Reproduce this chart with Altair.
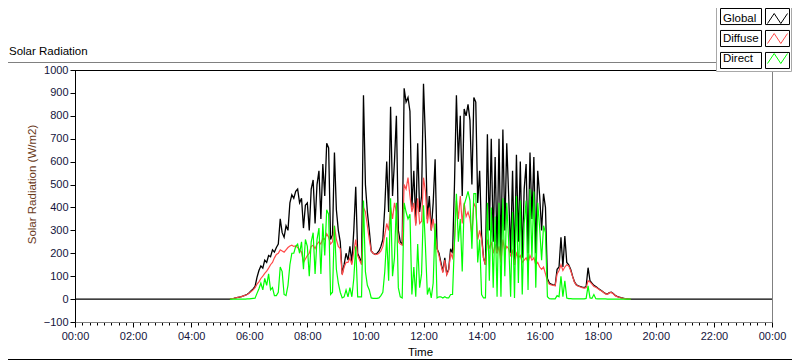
import altair as alt
import pandas as pd

# ---------------- data (W/m2), 4-minute samples from 05:20 ----------------
start_time_min = 320          # 05:20
sample_step_min = 4

global_wm2 = [
    0, 2, 3, 5, 7, 9, 11, 14, 17, 21,                                                   # 05:20-05:56
    28, 36, 44, 55, 95, 125, 145, 135, 170, 160, 190, 185, 215, 205, 225,               # 06
    240, 350, 290, 270, 320, 300, 420, 455, 440, 470, 480, 420, 440, 310, 410,          # 07
    420, 300, 480, 520, 330, 500, 560, 350, 590, 450, 680, 660, 260, 280, 640,          # 08
    390, 300, 250, 110, 150, 200, 170, 230, 160, 300, 490, 200, 180, 160, 890,          # 09
    500, 380, 300, 210, 200, 195, 200, 210, 230, 260, 400, 600, 380, 840, 450,          # 10
    600, 800, 300, 250, 240, 920, 860, 880, 820, 400, 560, 330, 680, 380, 450,          # 11
    940, 700, 350, 450, 300, 420, 610, 220, 200, 160, 120, 180, 110, 130, 220,          # 12
    200, 500, 890, 600, 800, 450, 830, 800, 850, 780, 500, 880, 860, 420, 560,          # 13
    280, 180, 150, 720, 300, 700, 250, 620, 200, 700, 180, 740, 300, 680, 450,          # 14
    200, 560, 150, 630, 250, 600, 180, 480, 590, 200, 640, 350, 620, 200, 560,          # 15
    450, 300, 460, 400, 90, 70, 65, 62, 60, 130, 140, 270, 140, 275, 160,               # 16
    150, 130, 100, 75, 62, 58, 55, 52, 50, 55, 137, 80, 70, 60, 55,                     # 17
    48, 42, 36, 30, 24, 22, 28, 30, 24, 16, 12, 9, 6, 4, 2,                             # 18
    1, 0, 0,                                                                            # 19:00-19:08
]

diffuse_wm2 = [
    0, 2, 3, 5, 7, 9, 11, 14, 17, 20,
    26, 33, 40, 50, 65, 75, 90, 100, 112, 122, 135, 150, 160, 180, 195,
    200, 215, 210, 205, 215, 225, 232, 235, 230, 232, 225, 215, 205, 160, 175,
    190, 200, 230, 235, 220, 240, 250, 240, 265, 260, 285, 270, 240, 250, 320,
    260, 230, 220, 105, 140, 160, 160, 180, 150, 210, 260, 190, 170, 150, 400,
    380, 320, 260, 210, 200, 195, 195, 200, 210, 230, 280, 330, 300, 400, 350,
    420, 380, 250, 240, 235, 500, 480, 530, 450, 380, 420, 320, 440, 330, 340,
    530, 470, 330, 400, 300, 350, 280, 220, 190, 150, 115, 170, 105, 125, 200,
    180, 250, 430, 350, 450, 330, 420, 360, 380, 350, 280, 420, 400, 260, 300,
    260, 180, 150, 260, 220, 250, 200, 240, 200, 230, 160, 260, 210, 230, 220,
    190, 210, 150, 200, 180, 190, 160, 170, 180, 160, 190, 170, 180, 150, 160,
    140, 130, 140, 110, 80, 65, 62, 60, 58, 110, 125, 150, 125, 140, 150,
    145, 125, 98, 73, 60, 56, 53, 50, 48, 50, 80, 75, 65, 55, 52,
    46, 40, 35, 29, 23, 21, 27, 29, 23, 15, 11, 8, 5, 3, 2,
    1, 0, 0,
]

direct_wm2 = [
    0, 0, 0, 0, 0, 0, 0, 0, 0, 1,
    1, 2, 3, 4, 25, 45, 70, 40, 90, 60, 110, 40, 50, 15, 15,
    30, 140, 120, 20, 15, 60, 150, 200, 200, 230, 240, 200, 250, 130, 260,
    230, 100, 250, 290, 110, 260, 310, 110, 330, 190, 390, 370, 20, 30, 320,
    130, 70, 30, 5, 10, 40, 10, 50, 10, 90, 230, 10, 10, 10, 430,
    120, 60, 40, 5, 3, 3, 3, 5, 15, 30, 120, 270, 80, 440, 100,
    180, 420, 50, 10, 5, 420, 380, 350, 370, 20, 140, 10, 240, 50, 110,
    410, 230, 20, 50, 5, 70, 330, 5, 10, 10, 5, 10, 5, 5, 20,
    20, 250, 460, 250, 350, 120, 410, 440, 470, 430, 220, 460, 460, 160, 260,
    20, 5, 5, 420, 80, 400, 50, 360, 10, 420, 10, 440, 100, 420, 250,
    10, 380, 5, 450, 70, 430, 20, 330, 430, 40, 480, 180, 470, 50, 420,
    310, 170, 320, 290, 10, 2, 1, 1, 1, 15, 10, 100, 10, 80, 5,
    2, 2, 1, 1, 1, 1, 1, 1, 1, 3, 58, 5, 3, 20, 2,
    1, 1, 1, 1, 1, 0, 0, 0, 0, 0, 0, 0, 0, 0, 0,
    0, 0, 0,
]

series_names = ["Global", "Diffuse", "Direct"]
series_colors = ["#000000", "#ff4a4a", "#00ff00"]

major_ticks = [0, 120, 240, 360, 480, 600, 720, 840, 960, 1080, 1200, 1320, 1440]
minor_ticks = list(range(0, 1441, 15))
y_ticks = [-100, 0, 100, 200, 300, 400, 500, 600, 700, 800, 900, 1000]

# ---------------- layout / style ----------------
FONT = "Liberation Sans"
LABEL_COLOR = "#14143c"
W, H = 697, 252

times = [start_time_min + i * sample_step_min for i in range(len(global_wm2))]
df_global = pd.DataFrame({"t": [0] + times + [1440], "v": [0] + global_wm2 + [0]})
df_diffuse = pd.DataFrame({"t": times, "v": diffuse_wm2})
df_direct = pd.DataFrame({"t": times, "v": direct_wm2})
one = pd.DataFrame({"k": [0]})
leg_df = pd.DataFrame({"series": series_names})


def xs():
    return alt.Scale(domain=[0, 1440], nice=False, zero=False)


def ys():
    return alt.Scale(domain=[-100, 1000], nice=False, zero=False)


label_expr = "(floor(datum.value/60)%24<10?'0':'')+(floor(datum.value/60)%24)+':00'"

main_x_axis = alt.Axis(
    orient="bottom", values=major_ticks, labelExpr=label_expr, grid=False,
    tickSize=5, tickColor="black", domainColor="#808080", domainWidth=1,
    labelFont=FONT, labelFontSize=11, labelColor=LABEL_COLOR, labelPadding=3,
    labelFlush=False, labelOverlap=False,
    title="Time", titleFont=FONT, titleFontSize=11.5, titleFontWeight="normal",
    titleColor="black", titleX=345, titleY=33, titleAlign="center", titleBaseline="alphabetic",
)
main_y_axis = alt.Axis(
    values=y_ticks, format="d", grid=False, tickSize=5, tickColor="black", domainColor="black",
    labelFont=FONT, labelFontSize=11, labelColor=LABEL_COLOR, labelPadding=2,
    title="Solar Radiation (W/m2)", titleFont=FONT, titleFontSize=11.5,
    titleFontWeight="normal", titleColor="#6a3a1a", titleAngle=270,
    titleX=-38, titleY=114, titleAlign="center", titleBaseline="bottom",
)
minor_x_axis = alt.Axis(
    orient="bottom", values=minor_ticks, labels=False, tickSize=3, tickColor="black",
    domain=False, grid=False, title=None,
)

minor = alt.Chart(df_global).mark_line(opacity=0).encode(
    x=alt.X("t:Q", scale=xs(), axis=minor_x_axis),
    y=alt.Y("v:Q", scale=ys(), axis=None),
)
g_line = alt.Chart(df_global).mark_line(color=series_colors[0], strokeWidth=1.3).encode(
    x=alt.X("t:Q", scale=xs(), axis=main_x_axis),
    y=alt.Y("v:Q", scale=ys(), axis=main_y_axis),
)
d_line = alt.Chart(df_diffuse).mark_line(color=series_colors[1], strokeWidth=1.2).encode(
    x=alt.X("t:Q", scale=xs(), axis=None),
    y=alt.Y("v:Q", scale=ys(), axis=None),
)
r_line = alt.Chart(df_direct).mark_line(color=series_colors[2], strokeWidth=1.2).encode(
    x=alt.X("t:Q", scale=xs(), axis=None),
    y=alt.Y("v:Q", scale=ys(), axis=None),
)

# frame decorations
top_line = alt.Chart(one).mark_rule(color="black", strokeWidth=1).encode(
    x=alt.value(0), x2=alt.value(W), y=alt.value(0.5))
right_line = alt.Chart(one).mark_rule(color="#808080", strokeWidth=1).encode(
    x=alt.value(W + 0.5), y=alt.value(0), y2=alt.value(H))
panel_top = alt.Chart(one).mark_rule(color="#808080", strokeWidth=1).encode(
    x=alt.value(-67), x2=alt.value(641), y=alt.value(-7.5))
panel_bottom = alt.Chart(one).mark_rule(color="black", strokeWidth=1).encode(
    x=alt.value(-67), x2=alt.value(717), y=alt.value(289.5))
caption = alt.Chart(one).mark_text(
    text="Solar Radiation", align="left", baseline="alphabetic",
    font=FONT, fontSize=11.5, color="black").encode(x=alt.value(-66), y=alt.value(-15))

# legend (top-right)
band_y = alt.Y("series:N", scale=alt.Scale(domain=series_names, range=[-61.5, -1.5],
                                            paddingInner=0.27, paddingOuter=0), axis=None)
legend_panel = alt.Chart(one).mark_rect(fill="white", stroke="#a8a8a8", strokeWidth=1).encode(
    x=alt.value(641.5), x2=alt.value(716.5), y=alt.value(-70), y2=alt.value(1.5))
label_boxes = alt.Chart(leg_df).mark_rect(fill="white", stroke="black", strokeWidth=1).encode(
    x=alt.value(645.5), x2=alt.value(686.5), y=band_y)
swatch_boxes = alt.Chart(leg_df).mark_rect(fill="white", stroke="black", strokeWidth=1).encode(
    x=alt.value(690.5), x2=alt.value(714.5), y=band_y)
label_text = alt.Chart(leg_df).mark_text(
    align="left", baseline="middle", font=FONT, fontSize=11.5, color="black").encode(
    x=alt.value(648), y=band_y, text="series:N")
ZIGZAG = "M-1,0.5L-0.33,-0.5L0.33,0.5L1,-0.5"
glyphs = alt.Chart(leg_df).mark_point(shape=ZIGZAG, filled=False, size=400, strokeWidth=1, opacity=1).encode(
    x=alt.value(702.5), y=band_y,
    color=alt.Color("series:N", scale=alt.Scale(domain=series_names, range=series_colors), legend=None))

chart = alt.layer(
    minor, g_line, d_line, r_line, top_line, right_line, panel_top, panel_bottom, caption,
    legend_panel, label_boxes, swatch_boxes, label_text, glyphs,
).resolve_scale(
    x="independent", y="independent", color="independent"
).properties(
    width=W, height=H, background="white",
    autosize=alt.AutoSizeParams(type="none"),
    padding={"left": 67, "top": 62, "right": 20, "bottom": 39},
).configure_view(stroke=None)

chart.save("out.html", embed_options={"renderer": "svg", "actions": False})
